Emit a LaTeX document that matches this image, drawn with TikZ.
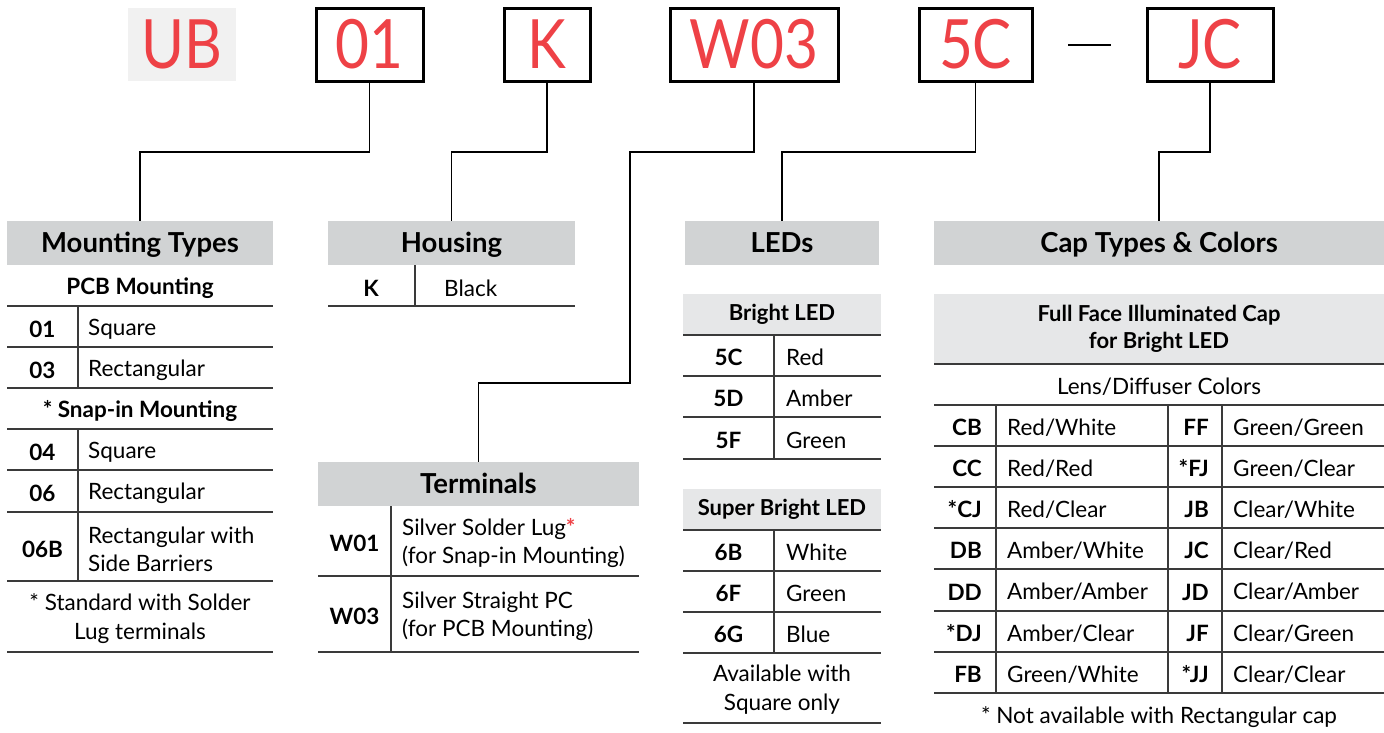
\documentclass[tikz,border=0pt]{standalone}
\usepackage{fontspec}
\setmainfont{Lato}
\newfontfamily\codefont[FakeStretch=0.86]{Lato}
\usetikzlibrary{positioning,calc}

\definecolor{codered}{HTML}{EE4146}
\definecolor{hdrgray}{HTML}{D1D3D4}
\definecolor{subgray}{HTML}{E6E7E8}
\definecolor{ubgray}{HTML}{F1F1F1}
\definecolor{rulegray}{HTML}{3A3A3A}

\begin{document}
\begin{tikzpicture}[
    x=1pt, y=-1pt,
    codebox/.style={draw, line width=3pt, minimum height=73pt, inner sep=0pt,
                    text=codered, font=\codefont\fontsize{68}{68}\selectfont},
    hdr/.style={fill=hdrgray, minimum height=44pt, inner sep=0pt,
                text depth=0pt, text height=19pt,
                font=\bfseries\fontsize{27.5}{30}\selectfont},
    subhdr/.style={fill=subgray, inner sep=0pt, align=center,
                   font=\bfseries\fontsize{22}{27}\selectfont},
    code/.style={inner sep=0pt, yshift=-2pt, font=\bfseries\fontsize{22.5}{25}\selectfont},
    txt/.style={inner sep=0pt, anchor=west, align=left, yshift=-2pt,
                font=\fontsize{22.5}{28}\selectfont},
    note/.style={inner sep=0pt, align=center, yshift=-2pt,
                 font=\fontsize{22.5}{29}\selectfont},
    rule/.style={line width=1.4pt, draw=rulegray},
    link/.style={line width=1.1pt, draw=black},
]
\useasboundingbox (0,0) rectangle (1384,732);

% --- part number boxes (top) ---
\node[fill=ubgray, minimum width=108pt, minimum height=73pt, inner sep=0pt,
      text=codered, font=\codefont\fontsize{68}{68}\selectfont] (bUB) at (182,44.5) {UB};
\node[codebox, minimum width=107pt] (b01)  at (369.5,44.5) {01};
\node[codebox, minimum width=86pt]  (bK)   at (547,44.5)   {K};
\node[codebox, minimum width=168pt] (bW03) at (754,44.5)   {W03};
\node[codebox, minimum width=113pt] (b5C)  at (975.5,44.5) {5C};
\node[codebox, minimum width=126pt] (bJC)  at (1210,44.5)  {JC};
\coordinate (dashL) at (1068,45);
\coordinate (dashR) at (1111,45);
\draw[line width=2.2pt] (dashL) -- (dashR);

% --- section headers ---
\node[hdr, minimum width=266pt] (mtHead)   at (140,243)    {Mounting Types};
\node[hdr, minimum width=247pt] (hsHead)   at (451.5,243)  {Housing};
\node[hdr, minimum width=194pt] (ledHead)  at (782,243)    {LEDs};
\node[hdr, minimum width=450pt] (capHead)  at (1159,243)   {Cap Types \& Colors};
\node[hdr, minimum width=321pt] (termHead) at (478.5,484)  {Terminals};

% --- connectors from the boxes down to the headers ---
\coordinate (lvl) at (0,152);
\coordinate (jog) at (630,383);
\draw[link] (b01.south)  -- (b01.south |- lvl)  -| (mtHead.north);
\draw[link] (bK.south)   -- (bK.south |- lvl)   -| (hsHead.north);
\draw[link] (bW03.south) -- (bW03.south |- lvl) -| (jog) -| (termHead.north);
\draw[link] (b5C.south)  -- (b5C.south |- lvl)  -| (ledHead.north);
\draw[link] (bJC.south)  -- (bJC.south |- lvl)  -| (capHead.north);

% --- Mounting Types table ---
\foreach \y in {306,347,388,429,470,512,581,652}
  \draw[rule] (7,\y) -- (273,\y);
\draw[rule] (78,306) -- (78,388);
\draw[rule] (78,429) -- (78,581);
\node[code] (mtPcb)  at (140,286) {PCB Mounting};
\node[code] (mtSnap) at (140,409) {* Snap-in Mounting};
\foreach \c/\t/\y [count=\i] in {01/Square/327, 03/Rectangular/368,
                                 04/Square/450, 06/Rectangular/491}{
  \node[code] (mtC\i) at (42.5,\y) {\c};
  \node[txt]  (mtT\i) at (88,\y)   {\t};
}
\node[code] (mtC5) at (42.5,547) {06B};
\node[txt]  (mtT5) at (88,547)   {Rectangular with\\Side Barriers};
\node[note] (mtNote) at (140,617) {* Standard with Solder\\Lug terminals};

% --- Housing table ---
\draw[rule] (328,306) -- (575,306);
\draw[rule] (415,265) -- (415,306);
\node[code] (hsC) at (371,286) {K};
\node[txt]  (hsT) at (444,286) {Black};

% --- Terminals table ---
\draw[rule] (318,576) -- (639,576);
\draw[rule] (318,652) -- (639,652);
\draw[rule] (391,506) -- (391,652);
\node[code] (tmC1) at (354.5,541) {W01};
\node[txt]  (tmT1) at (402,541)   {Silver Solder Lug\textcolor{codered}{\bfseries*}\\(for Snap-in Mounting)};
\node[code] (tmC2) at (354.5,614) {W03};
\node[txt]  (tmT2) at (402,614)   {Silver Straight PC\\(for PCB Mounting)};

% --- LEDs tables ---
\node[subhdr, minimum width=198pt, minimum height=41pt] (ledBright) at (782,314.5) {Bright LED};
\node[subhdr, minimum width=198pt, minimum height=41pt] (ledSuper)  at (782,509.5) {Super Bright LED};
\foreach \y in {335,376,417,459,530,571,612,653,723}
  \draw[rule] (683,\y) -- (881,\y);
\draw[rule] (774,335) -- (774,459);
\draw[rule] (774,530) -- (774,653);
\foreach \c/\t/\y [count=\i] in {5C/Red/355.5, 5D/Amber/396.5, 5F/Green/438,
                                 6B/White/550.5, 6F/Green/591.5, 6G/Blue/632.5}{
  \node[code] (ledC\i) at (728.5,\y) {\c};
  \node[txt]  (ledT\i) at (786,\y)   {\t};
}
\node[note] (ledNote) at (782,688) {Available with\\Square only};

% --- Cap Types & Colors table ---
\node[subhdr, minimum width=450pt, minimum height=70pt] (capFull) at (1159,329)
     {Full Face Illuminated Cap\\for Bright LED};
\node[note] (capLens) at (1159,384.5) {Lens/Diffuser Colors};
\foreach \y in {364,405,446,487,528,569,611,652,693}
  \draw[rule] (934,\y) -- (1384,\y);
\foreach \x in {996,1168,1222}
  \draw[rule] (\x,405) -- (\x,693);
\foreach \a/\b/\c/\d/\y [count=\i] in {
    CB/{Red/White}/FF/{Green/Green}/425.5,
    CC/{Red/Red}/{*FJ}/{Green/Clear}/466.5,
    {*CJ}/{Red/Clear}/JB/{Clear/White}/507.5,
    DB/{Amber/White}/JC/{Clear/Red}/548.5,
    DD/{Amber/Amber}/JD/{Clear/Amber}/590,
    {*DJ}/{Amber/Clear}/JF/{Clear/Green}/631.5,
    FB/{Green/White}/{*JJ}/{Clear/Clear}/672.5}{
  \node[code, anchor=east] (capA\i) at (982,\y)  {\a};
  \node[txt]               (capB\i) at (1007,\y) {\b};
  \node[code, anchor=east] (capC\i) at (1209,\y) {\c};
  \node[txt]               (capD\i) at (1233,\y) {\d};
}
\node[note] (capNote) at (1159,715) {* Not available with Rectangular cap};

\end{tikzpicture}
\end{document}
